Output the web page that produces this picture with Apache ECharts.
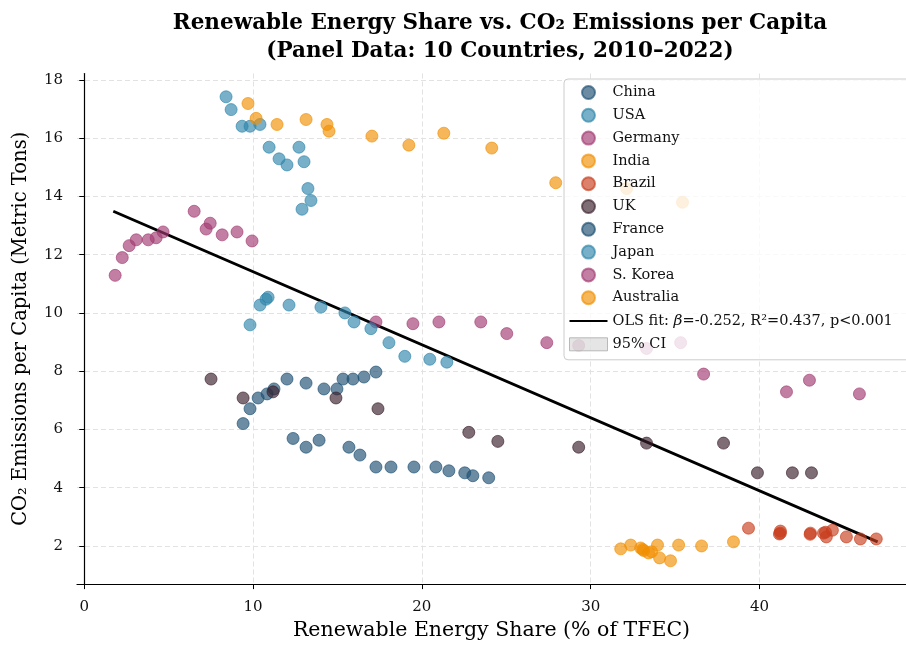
<!DOCTYPE html>
<html>
<head>
<meta charset="utf-8">
<script src="https://cdn.jsdelivr.net/npm/echarts@6/dist/echarts.min.js"></script>
<style>
  html, body { margin: 0; padding: 0; background: #fff; }
  #main { width: 906px; height: 646px; }
</style>
</head>
<body>
<div id="main"></div>
<script>
// renewable share (% of TFEC) and CO2 per capita (t), one pair of arrays per country
const chinaShare = [9.41, 9.82, 10.30, 10.83, 11.24, 12.01, 13.14, 14.20, 14.97, 15.33, 15.92, 16.57, 17.28];
const chinaCO2 = [6.20, 6.71, 7.08, 7.22, 7.39, 7.73, 7.59, 7.39, 7.39, 7.73, 7.73, 7.80, 7.97];
const usaShare = [8.40, 8.70, 9.35, 9.82, 10.41, 10.95, 11.54, 12.01, 12.72, 13.02, 13.25, 13.43, 12.90];
const usaCO2 = [17.42, 16.98, 16.41, 16.41, 16.47, 15.69, 15.29, 15.08, 15.69, 15.19, 14.27, 13.86, 13.56];
const germanyShare = [17.28, 19.47, 21.01, 23.49, 25.03, 27.40, 29.29, 33.31, 35.33, 36.69, 41.60, 42.96, 45.92];
const germanyCO2 = [9.69, 9.63, 9.69, 9.69, 9.29, 8.98, 8.88, 8.78, 8.98, 7.90, 7.29, 7.69, 7.22];
const indiaShare = [31.78, 32.37, 32.96, 33.08, 33.14, 33.43, 33.61, 33.96, 34.08, 34.73, 35.21, 36.57, 38.46];
const indiaCO2 = [1.90, 2.03, 1.93, 1.88, 1.84, 1.76, 1.80, 2.03, 1.59, 1.49, 2.03, 2.00, 2.14];
const brazilShare = [39.35, 41.24, 41.18, 41.24, 43.02, 43.00, 43.79, 43.91, 43.96, 44.32, 45.15, 45.98, 46.92];
const brazilCO2 = [2.61, 2.51, 2.41, 2.44, 2.44, 2.40, 2.44, 2.47, 2.31, 2.54, 2.31, 2.24, 2.24];
const ukShare = [7.51, 9.41, 11.18, 14.91, 17.40, 22.78, 24.50, 29.29, 33.31, 37.87, 39.88, 41.95, 43.08];
const ukCO2 = [7.73, 7.08, 7.29, 7.08, 6.71, 5.90, 5.59, 5.39, 5.53, 5.53, 4.51, 4.51, 4.51];
const franceShare = [12.37, 13.14, 13.91, 15.68, 16.33, 17.28, 18.17, 19.53, 20.83, 21.60, 22.54, 23.02, 23.96];
const franceCO2 = [5.69, 5.39, 5.63, 5.39, 5.12, 4.71, 4.71, 4.71, 4.71, 4.58, 4.51, 4.41, 4.34];
const japanShare = [9.82, 10.41, 10.77, 10.89, 12.13, 14.02, 15.44, 15.98, 16.98, 18.05, 18.99, 20.47, 21.48];
const japanCO2 = [9.59, 10.27, 10.47, 10.54, 10.27, 10.20, 10.00, 9.69, 9.46, 8.98, 8.51, 8.41, 8.31];
const koreaShare = [1.83, 2.25, 2.66, 3.08, 3.79, 4.26, 4.67, 6.51, 7.22, 7.46, 8.17, 9.05, 9.94];
const koreaCO2 = [11.29, 11.90, 12.31, 12.51, 12.51, 12.58, 12.78, 13.49, 12.88, 13.08, 12.68, 12.78, 12.47];
const australiaShare = [9.70, 10.18, 11.42, 13.14, 14.38, 14.50, 17.04, 19.23, 21.30, 24.14, 27.93, 32.13, 35.44];
const australiaCO2 = [17.19, 16.68, 16.47, 16.64, 16.47, 16.24, 16.07, 15.76, 16.17, 15.66, 14.47, 14.27, 13.80];

const countries = ['China', 'USA', 'Germany', 'India', 'Brazil', 'UK', 'France', 'Japan', 'S. Korea', 'Australia'];
const shares = [chinaShare, usaShare, germanyShare, indiaShare, brazilShare, ukShare, franceShare, japanShare, koreaShare, australiaShare];
const emissions = [chinaCO2, usaCO2, germanyCO2, indiaCO2, brazilCO2, ukCO2, franceCO2, japanCO2, koreaCO2, australiaCO2];
const palette = ['#1B4F72', '#2E86AB', '#A23B72', '#F18F01', '#C73E1D', '#3B1F2B'];

// OLS fit line endpoints (min / max share)
const fitShare = [1.72, 47.0];
const fitCO2 = [13.49, 2.14];
const olsLabel = 'OLS fit: β=-0.252, R²=0.437, p<0.001';
const ciLabel = '95% CI';

const FONT = 'DejaVu Serif';
let chart = echarts.init(document.getElementById('main'));

let series = countries.map(function (name, i) {
    let c = palette[i % palette.length];
    return {
        name: name,
        type: 'scatter',
        z: 3,
        symbol: 'circle',
        symbolSize: 12,
        itemStyle: { color: c, opacity: 0.65, borderColor: c, borderWidth: 1 },
        emphasis: { disabled: true },
        data: shares[i].map(function (x, k) { return [x, emissions[i][k]]; })
    };
});

series.push({
    name: olsLabel,
    type: 'line',
    z: 2,
    symbol: 'none',
    lineStyle: { color: '#000', width: 2.8 },
    itemStyle: { color: '#000' },
    data: fitShare.map(function (x, k) { return [x, fitCO2[k]]; })
});

series.push({
    name: ciLabel,
    type: 'scatter',
    itemStyle: { color: 'rgba(150,150,150,0.3)' },
    data: []
});

let legendData = countries.map(function (name) {
    return { name: name, icon: 'circle', itemStyle: { opacity: 0.65 } };
});
// thin bar as the symbol so the legend shows just the line
legendData.push({ name: olsLabel, icon: 'path://M0,0H20V1H0Z', itemStyle: { color: '#000' } });
legendData.push({ name: ciLabel, icon: 'rect', itemStyle: { color: 'rgba(150,150,150,0.3)', borderColor: '#aaa', borderWidth: 1 } });

let option = {
    animation: false,
    backgroundColor: '#fff',
    title: {
        text: 'Renewable Energy Share vs. CO₂ Emissions per Capita\n(Panel Data: 10 Countries, 2010–2022)',
        left: 495,
        top: 4,
        textAlign: 'center',
        textStyle: { fontFamily: FONT, fontWeight: 'bold', fontSize: 21.5, lineHeight: 28, color: '#000' }
    },
    grid: { left: 77, right: 0, top: 73.5, bottom: 56, containLabel: false },
    xAxis: {
        type: 'value',
        min: -0.43,
        max: 48.68,
        splitNumber: 5,
        name: 'Renewable Energy Share (% of TFEC)',
        nameLocation: 'middle',
        nameGap: 35,
        nameTextStyle: { fontFamily: FONT, fontSize: 20.5, color: '#000' },
        axisLine: { onZero: false, lineStyle: { color: '#000', width: 1.2 } },
        axisTick: { show: true, length: 5, lineStyle: { color: '#000', width: 1 } },
        axisLabel: { fontFamily: FONT, fontSize: 15, color: '#111', margin: 16, showMinLabel: false, showMaxLabel: false },
        splitLine: { show: true, showMinLine: false, showMaxLine: false, lineStyle: { color: '#e2e2e2', type: [5, 3], width: 1 } }
    },
    yAxis: {
        type: 'value',
        min: 0.69,
        max: 18.22,
        splitNumber: 9,
        name: 'CO₂ Emissions per Capita (Metric Tons)',
        nameLocation: 'middle',
        nameGap: 46,
        nameTextStyle: { fontFamily: FONT, fontSize: 19.5, color: '#000' },
        axisLine: { show: true, lineStyle: { color: '#000', width: 1.2 } },
        axisTick: { show: true, length: 5, lineStyle: { color: '#000', width: 1 } },
        axisLabel: { fontFamily: FONT, fontSize: 15, color: '#111', margin: 14, showMinLabel: false, showMaxLabel: false },
        splitLine: { show: true, showMinLine: false, showMaxLine: false, lineStyle: { color: '#e2e2e2', type: [5, 3], width: 1 } }
    },
    legend: {
        orient: 'vertical',
        left: 564,
        top: 79,
        padding: [6, 30, 8, 5],
        itemWidth: 38,
        itemHeight: 13,
        itemGap: 7.8,
        backgroundColor: 'rgba(255,255,255,0.8)',
        borderColor: '#cccccc',
        borderWidth: 1,
        borderRadius: 4,
        selectedMode: false,
        data: legendData,
        formatter: function (name) {
            return name === olsLabel ? 'OLS fit: {i|β}=-0.252, R²=0.437, p<0.001' : name;
        },
        textStyle: {
            fontFamily: FONT, fontSize: 14.5, color: '#111',
            rich: { i: { fontFamily: FONT, fontSize: 15.5, fontStyle: 'italic', color: '#111' } }
        }
    },
    series: series
};

chart.setOption(option);
</script>
</body>
</html>
